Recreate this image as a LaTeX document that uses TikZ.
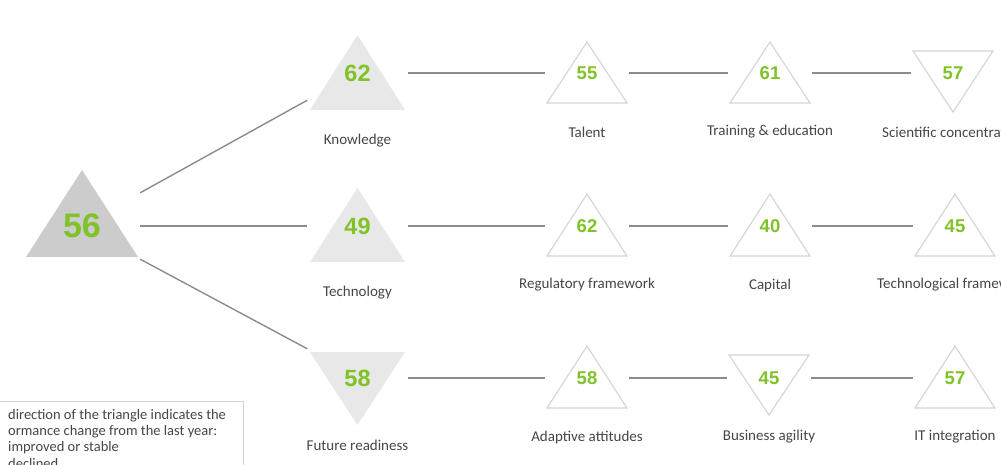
\documentclass[tikz,border=0pt]{standalone}
\usepackage{fontspec}
\setmainfont{Carlito}
\newfontfamily\numfont{Liberation Sans}
\usetikzlibrary{calc,backgrounds}
\definecolor{numgreen}{RGB}{128,194,40}
\definecolor{labgray}{RGB}{70,70,70}
\definecolor{linegray}{RGB}{140,140,140}
\definecolor{bigfill}{RGB}{204,204,204}
\definecolor{pilfill}{RGB}{232,232,232}
\definecolor{triline}{RGB}{212,212,212}
\newcommand\UpTri[5]{\path[#5] ($(#1)+(-#2,#4)$) -- ($(#1)+(0,-#3)$) -- ($(#1)+(#2,#4)$) -- cycle;}
\newcommand\DnTri[5]{\path[#5] ($(#1)+(-#2,-#3)$) -- ($(#1)+(0,#4)$) -- ($(#1)+(#2,-#3)$) -- cycle;}
\tikzset{
  conn/.style={draw=linegray, line width=1.4pt},
  bignum/.style={inner sep=0pt, text=numgreen, font=\numfont\bfseries\fontsize{34}{36}\selectfont, minimum width=116pt, minimum height=66pt},
  pilnum/.style={inner sep=0pt, text=numgreen, font=\numfont\bfseries\fontsize{23.5}{26}\selectfont, minimum width=100pt},
  subnum/.style={inner sep=0pt, text=numgreen, font=\numfont\bfseries\fontsize{18.5}{21}\selectfont, minimum width=84pt, minimum height=30pt},
  lab/.style={inner sep=0pt, text=labgray, font=\fontsize{15}{17}\selectfont},
  bigtri/.style={fill=bigfill},
  piltri/.style={fill=pilfill},
  subtri/.style={draw=triline, line width=1.1pt, fill=white},
  legendbox/.style={draw=triline, line width=1pt, fill=white},
  legendtxt/.style={inner sep=0pt, text=labgray, align=left, font=\fontsize{14.5}{16.3}\selectfont}
}
\begin{document}
\begin{tikzpicture}[x=1pt,y=-1pt]
\useasboundingbox (0,0) rectangle (1001,464);
\clip (0,0) rectangle (1001,464);
% hub
\node[bignum] (hub) at (82,226) {56};
% pillars
\node[pilnum, minimum height=54pt] (know) at (357.5,73) {62};
\node[pilnum, minimum height=54pt] (tech) at (357.5,226) {49};
\node[pilnum, minimum height=58pt] (fut) at (357.5,378) {58};
\node[lab] (knowl) at (357.5,141) {Knowledge};
\node[lab] (techl) at (357.5,293) {Technology};
\node[lab] (futl) at (357.5,445) {Future readiness};
% sub-pillars row 1
\node[subnum] (talent) at (587,73) {55};
\node[subnum] (train) at (770,73) {61};
\node[subnum] (sci) at (953,73) {57};
\node[lab] (talentl) at (587,132) {Talent};
\node[lab] (trainl) at (770,132) {Training \& education};
\node[lab, anchor=west] (scil) at (882,132) {Scientific concentration};
% row 2
\node[subnum] (reg) at (587,226) {62};
\node[subnum] (cap) at (770,226) {40};
\node[subnum] (techf) at (955,226) {45};
\node[lab] (regl) at (587,285) {Regulatory framework};
\node[lab] (capl) at (770,285) {Capital};
\node[lab, anchor=west] (techfl) at (877,285) {Technological framework};
% row 3
\node[subnum] (adapt) at (587,378) {58};
\node[subnum] (bus) at (769,378) {45};
\node[subnum] (it) at (955,378) {57};
\node[lab] (adaptl) at (587,437) {Adaptive attitudes};
\node[lab] (busl) at (769,437) {Business agility};
\node[lab] (itl) at (955,437) {IT integration};
% triangles
\begin{scope}[on background layer]
\fill[white] (0,0) rectangle (1001,464);
\UpTri{hub}{56}{56}{31}{bigtri}
\UpTri{know}{47.5}{38}{37}{piltri}
\UpTri{tech}{47.5}{38}{36}{piltri}
\DnTri{fut}{47.5}{26}{47}{piltri}
\UpTri{talent}{40}{31}{30}{subtri}
\UpTri{train}{40}{31}{30}{subtri}
\DnTri{sci}{40}{22}{39}{subtri}
\UpTri{reg}{40}{32}{30}{subtri}
\UpTri{cap}{40}{32}{30}{subtri}
\UpTri{techf}{40}{32}{30}{subtri}
\UpTri{adapt}{40}{32}{30}{subtri}
\DnTri{bus}{40}{23}{37}{subtri}
\UpTri{it}{40}{32}{30}{subtri}
\end{scope}
% connectors
\draw[conn] (hub.north east) -- (know.south west);
\draw[conn] (hub.east) -- (tech.west);
\draw[conn] (hub.south east) -- (fut.north west);
\draw[conn] (know.east) -- (talent.west);
\draw[conn] (talent.east) -- (train.west);
\draw[conn] (train.east) -- (sci.west);
\draw[conn] (tech.east) -- (reg.west);
\draw[conn] (reg.east) -- (cap.west);
\draw[conn] (cap.east) -- (techf.west);
\draw[conn] (fut.east) -- (adapt.west);
\draw[conn] (adapt.east) -- (bus.west);
\draw[conn] (bus.east) -- (it.west);
% legend
\path[legendbox] (-5,401) rectangle (243,480);
\node[legendtxt, anchor=north west] (legend) at (8,409) {direction of the triangle indicates the\\ormance change from the last year:\\improved or stable\\declined};
\end{tikzpicture}
\end{document}
